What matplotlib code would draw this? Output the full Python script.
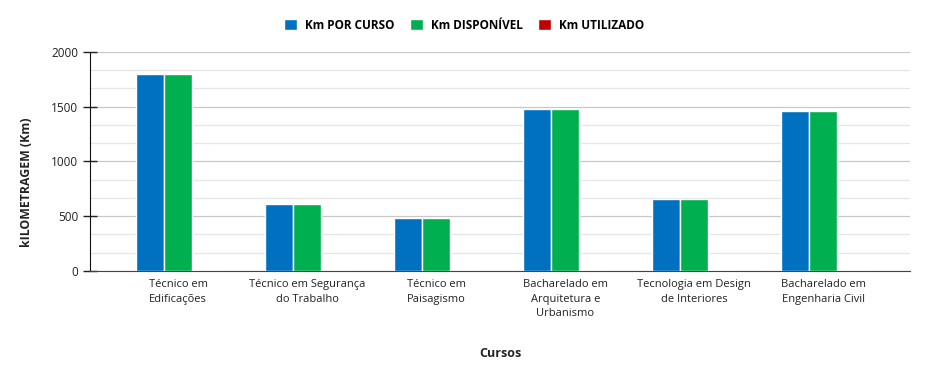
import matplotlib
matplotlib.use("Agg")
import matplotlib.pyplot as plt
import numpy as np
from matplotlib.ticker import MultipleLocator

plt.rcParams["font.family"] = ["Open Sans", "DejaVu Sans"]

cursos = [
    "Técnico em\nEdificações",
    "Técnico em Segurança\ndo Trabalho",
    "Técnico em\nPaisagismo",
    "Bacharelado em\nArquitetura e\nUrbanismo",
    "Tecnologia em Design\nde Interiores",
    "Bacharelado em\nEngenharia Civil",
]
km_por_curso = [1800, 610, 480, 1480, 655, 1460]
km_disponivel = [1800, 610, 480, 1480, 655, 1460]
km_utilizado = [0, 0, 0, 0, 0, 0]

series = [
    ("Km POR CURSO", km_por_curso, "#0070c0"),
    ("Km DISPONÍVEL", km_disponivel, "#00b050"),
    ("Km UTILIZADO", km_utilizado, "#c00000"),
]

fig = plt.figure(figsize=(9.28, 3.74), dpi=100)
ax = fig.add_axes([0.097, 0.276, 0.884, 0.585])

x = np.arange(len(cursos))
w = 0.217
for i, (name, vals, col) in enumerate(series):
    ax.bar(x + (i - 1) * w, vals, width=w, color=col, edgecolor="white",
           linewidth=1.0, label=name, zorder=3)

ax.set_xlim(-0.682, 5.674)
ax.set_ylim(0, 2000)
ax.yaxis.set_major_locator(MultipleLocator(500))
ax.yaxis.set_minor_locator(MultipleLocator(500 / 3))
ax.grid(axis="y", which="major", color="#c8c8c8", lw=0.9, zorder=0)
ax.grid(axis="y", which="minor", color="#e6e6e6", lw=0.9, zorder=0)
ax.tick_params(axis="y", which="major", direction="inout", length=10,
               width=1, labelsize=8.5, colors="#222222")
ax.tick_params(axis="y", which="minor", length=0)
ax.tick_params(axis="x", length=0, labelsize=8, pad=6, colors="#222222")
ax.set_xticks(x)
ax.set_xticklabels(cursos, linespacing=1.45)

for s in ["top", "right"]:
    ax.spines[s].set_visible(False)
ax.spines["left"].set_color("#111111")
ax.spines["bottom"].set_color("#444444")

ax.set_ylabel("kILOMETRAGEM (Km)", fontsize=8.8, fontweight="bold", color="#222222")
ax.yaxis.set_label_coords(-0.069, 0.405)
ax.set_xlabel("Cursos", fontsize=9, fontweight="bold", color="#222222")
ax.xaxis.set_label_coords(0.5, -0.349)

fig.legend(loc="center", bbox_to_anchor=(0.5, 0.933), ncol=3, frameon=False,
           prop={"weight": "bold", "size": 8.5},
           handlelength=1.1, handleheight=1.1, columnspacing=1.3, handletextpad=0.7)

fig.savefig("out.png", dpi=100, facecolor="white")
